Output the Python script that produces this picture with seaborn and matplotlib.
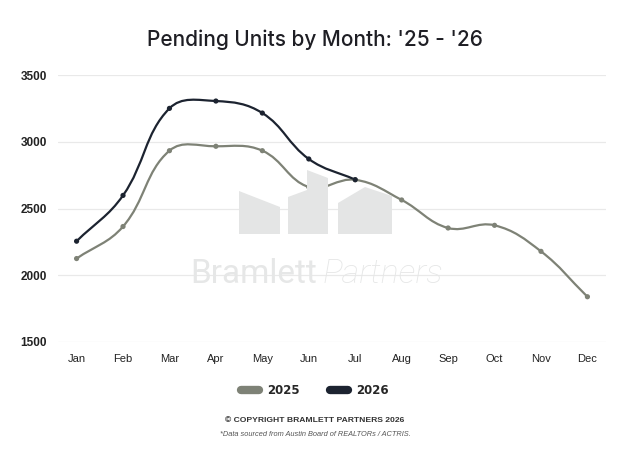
import matplotlib

matplotlib.use("Agg")

import matplotlib.pyplot as plt
import numpy as np
import pandas as pd
import seaborn as sns
from matplotlib.lines import Line2D
from matplotlib.patches import PathPatch, Polygon
from matplotlib.path import Path

MONTHS = ["Jan", "Feb", "Mar", "Apr", "May", "Jun", "Jul", "Aug", "Sep", "Oct", "Nov", "Dec"]
UNITS_2025 = [2125, 2365, 2933, 2966, 2933, 2661, 2715, 2564, 2354, 2374, 2179, 1839]
UNITS_2026 = [2255, 2598, 3250, 3305, 3215, 2871, 2716]
Y_TICKS = [1500, 2000, 2500, 3000, 3500]

COLOR_2025 = "#7e8276"
COLOR_2026 = "#1c2330"
TENSION = 0.4


def spline_path(xs, ys, sx, sy):
    # chart.js style bezier, control points worked out in pixel space
    px = np.asarray(xs, float) * sx
    py = np.asarray(ys, float) * sy
    n = len(px)
    verts = [(xs[0], ys[0])]
    codes = [Path.MOVETO]
    cps = []
    for i in range(n):
        p0 = (px[max(i - 1, 0)], py[max(i - 1, 0)])
        p2 = (px[min(i + 1, n - 1)], py[min(i + 1, n - 1)])
        d01 = np.hypot(px[i] - p0[0], py[i] - p0[1])
        d12 = np.hypot(p2[0] - px[i], p2[1] - py[i])
        tot = d01 + d12 if d01 + d12 else 1
        fa = TENSION * d01 / tot
        fb = TENSION * d12 / tot
        before = (px[i] - fa * (p2[0] - p0[0]), py[i] - fa * (p2[1] - p0[1]))
        after = (px[i] + fb * (p2[0] - p0[0]), py[i] + fb * (p2[1] - p0[1]))
        cps.append((before, after))
    for i in range(1, n):
        a = cps[i - 1][1]
        b = cps[i][0]
        verts += [(a[0] / sx, a[1] / sy), (b[0] / sx, b[1] / sy), (xs[i], ys[i])]
        codes += [Path.CURVE4] * 3
    return Path(verts, codes)


def fig_px(points):
    return [(x / 630, 1 - y / 453) for x, y in points]


def main() -> None:
    sns.set_theme(style="white")
    plt.rcParams["font.family"] = ["Liberation Sans", "DejaVu Sans"]

    df = pd.concat(
        [
            pd.DataFrame({"month": np.arange(len(UNITS_2025)), "units": UNITS_2025, "year": "2025"}),
            pd.DataFrame({"month": np.arange(len(UNITS_2026)), "units": UNITS_2026, "year": "2026"}),
        ]
    )

    fig = plt.figure(figsize=(6.3, 4.53), dpi=100)
    ax = fig.add_axes([58 / 630, 1 - 342 / 453, 548 / 630, 267 / 453])

    # watermark logo
    wm = "#e4e5e5"
    houses = [
        [(239, 234), (239, 191), (280, 207), (280, 234)],
        [(288, 234), (288, 197), (307, 190), (307, 170), (328, 178), (328, 234)],
        [(338, 234), (338, 203), (365, 187), (392, 196), (392, 234)],
    ]
    for h in houses:
        fig.patches.append(Polygon(fig_px(h), closed=True, transform=fig.transFigure,
                                   facecolor=wm, edgecolor="none", zorder=0))
    fig.text(190 / 630, 1 - 283 / 453, "Bramlett", fontsize=24, color="#e6e7e7",
             family="Roboto", fontweight="normal", ha="left", va="baseline", zorder=0)
    fig.text(323 / 630, 1 - 283 / 453, "Partners", fontsize=24.5, color="#e6e7e7",
             family="Roboto", fontweight="light", style="italic", ha="left", va="baseline", zorder=0)
    ax.patch.set_alpha(0)

    sx = 548 / 11.8
    sy = 267 / 2000
    for units, color in [(UNITS_2025, COLOR_2025), (UNITS_2026, COLOR_2026)]:
        path = spline_path(list(range(len(units))), units, sx, sy)
        ax.add_patch(PathPatch(path, facecolor="none", edgecolor=color, lw=1.6,
                               clip_on=False, zorder=3))

    sns.scatterplot(data=df, x="month", y="units", hue="year",
                    palette={"2025": COLOR_2025, "2026": COLOR_2026},
                    s=14, edgecolor="none", legend=False, ax=ax, zorder=4, clip_on=False)

    ax.set_xlim(-0.4, 11.4)
    ax.set_ylim(1500, 3500)
    ax.set_yticks(Y_TICKS)
    ax.set_yticklabels([str(t) for t in Y_TICKS], fontsize=8.5, fontweight="bold", color="#222222")
    ax.set_xticks(range(len(MONTHS)))
    ax.set_xticklabels(MONTHS, fontsize=8, color="#222222")
    ax.tick_params(axis="y", length=0, pad=8)
    ax.tick_params(axis="x", length=0, pad=9)
    ax.grid(axis="y", color="#e9e9e9", lw=0.9)
    ax.set_axisbelow(True)
    for s in ax.spines.values():
        s.set_visible(False)
    ax.set_xlabel("")
    ax.set_ylabel("")

    fig.text(0.5, 1 - 40 / 453, "Pending Units by Month: '25 - '26", ha="center", va="center",
             fontsize=15, family="Inter", fontweight="medium", color="#1e1e24")

    handles = [
        Line2D([0], [0], color=COLOR_2025, lw=6, solid_capstyle="round"),
        Line2D([0], [0], color=COLOR_2026, lw=6, solid_capstyle="round"),
    ]
    fig.legend(handles, ["2025", "2026"], loc="center", bbox_to_anchor=(0.5, 1 - 391 / 453),
               ncol=2, frameon=False, handlelength=1.5, handletextpad=0.7, columnspacing=2.6,
               prop={"family": "DejaVu Sans", "weight": "bold", "size": 8.5})

    fig.text(0.5, 1 - 421 / 453, "© COPYRIGHT BRAMLETT PARTNERS 2026", ha="center", va="center",
             fontsize=6.1, fontweight="bold", color="#333333")
    fig.text(0.5, 1 - 435 / 453, "*Data sourced from Austin Board of REALTORs / ACTRIS.",
             ha="center", va="center", fontsize=5.3, style="italic", color="#555555")

    fig.savefig("out.png", dpi=100)


if __name__ == "__main__":
    main()
